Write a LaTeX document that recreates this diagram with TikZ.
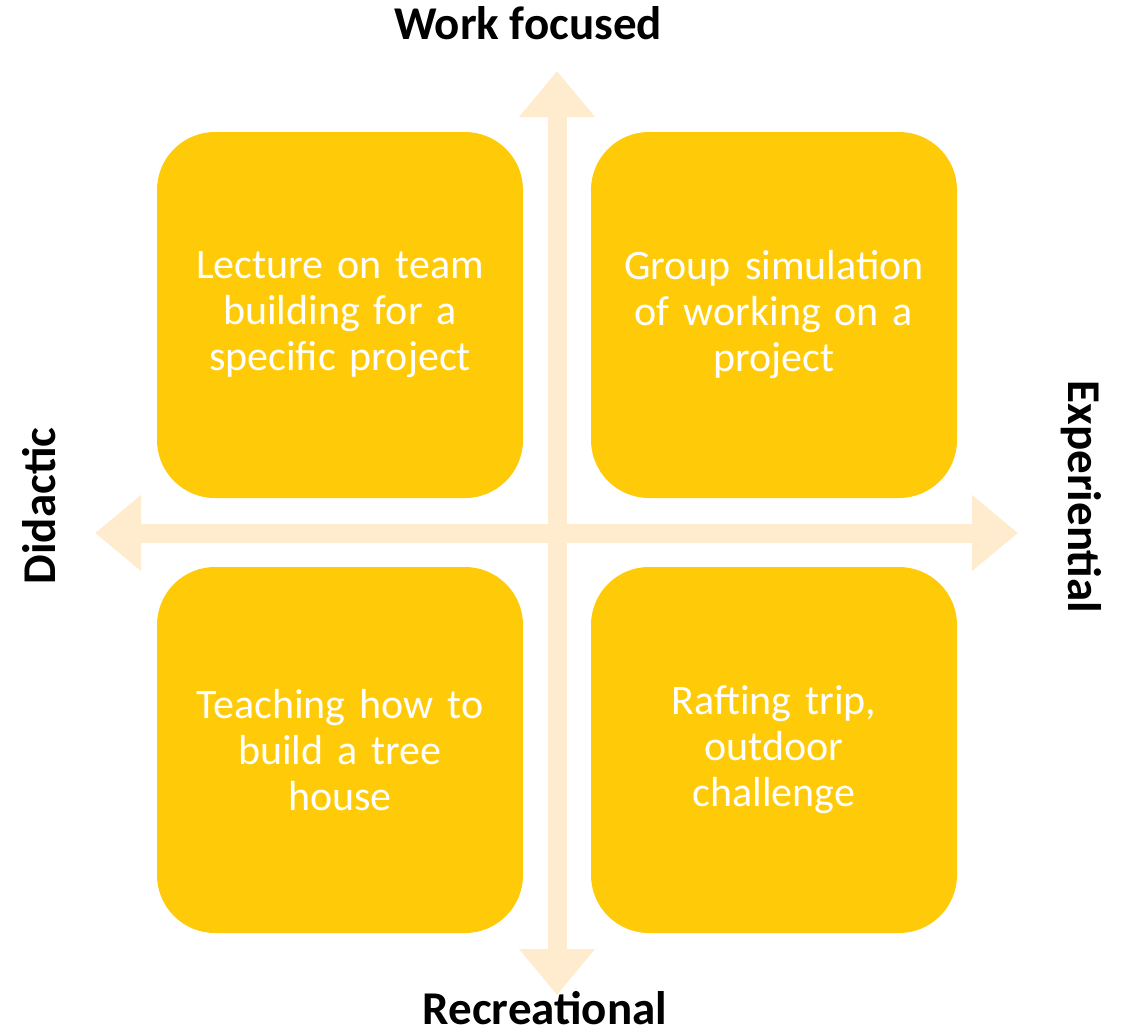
\documentclass[tikz,border=0pt]{standalone}
\usepackage{fontspec}
\setmainfont{Carlito}
\usetikzlibrary{arrows.meta}
\definecolor{boxyellow}{HTML}{FFCA08}
\definecolor{arrowpeach}{HTML}{FFEBCD}
\tikzset{
  quad/.style={fill=boxyellow, draw=none, rounded corners=58pt, minimum width=366pt, minimum height=366pt,
    text=white, align=center, text width=330pt, font=\fontsize{42}{46}\selectfont, inner sep=0pt},
  axislabel/.style={font=\fontsize{47}{52}\selectfont\bfseries, text=black, inner sep=0pt, anchor=base},
  axisarrow/.style={draw=arrowpeach, line width=19pt,
    {Triangle[width=73pt,length=46pt]}-{Triangle[width=73pt,length=46pt]}}
}
\begin{document}
\begin{tikzpicture}[x=1pt,y=-1pt]
\useasboundingbox (0,0) rectangle (1132,1034);
\coordinate (vtop) at (557,71);
\coordinate (vbot) at (557,995);
\coordinate (hleft) at (95,533);
\coordinate (hright) at (1018,533);
\draw[axisarrow] (vtop) -- (vbot);
\draw[axisarrow] (hleft) -- (hright);
\node[quad] (tl) at (340,315) {Lecture on team\\building for a\\specific project};
\node[quad] (tr) at (774,315) {Group simulation\\of working on a\\project};
\node[quad] (bl) at (340,750) {Teaching how to\\build a tree\\house};
\node[quad] (br) at (774,750) {Rafting trip,\\outdoor\\challenge};
\node[axislabel] (work) at (528,39) {Work focused};
\node[axislabel] (rec) at (545,1024) {Recreational};
\node[axislabel, rotate=90] (did) at (55,506) {Didactic};
\node[axislabel, rotate=-90] (exp) at (1068,497) {Experiential};
\end{tikzpicture}
\end{document}
